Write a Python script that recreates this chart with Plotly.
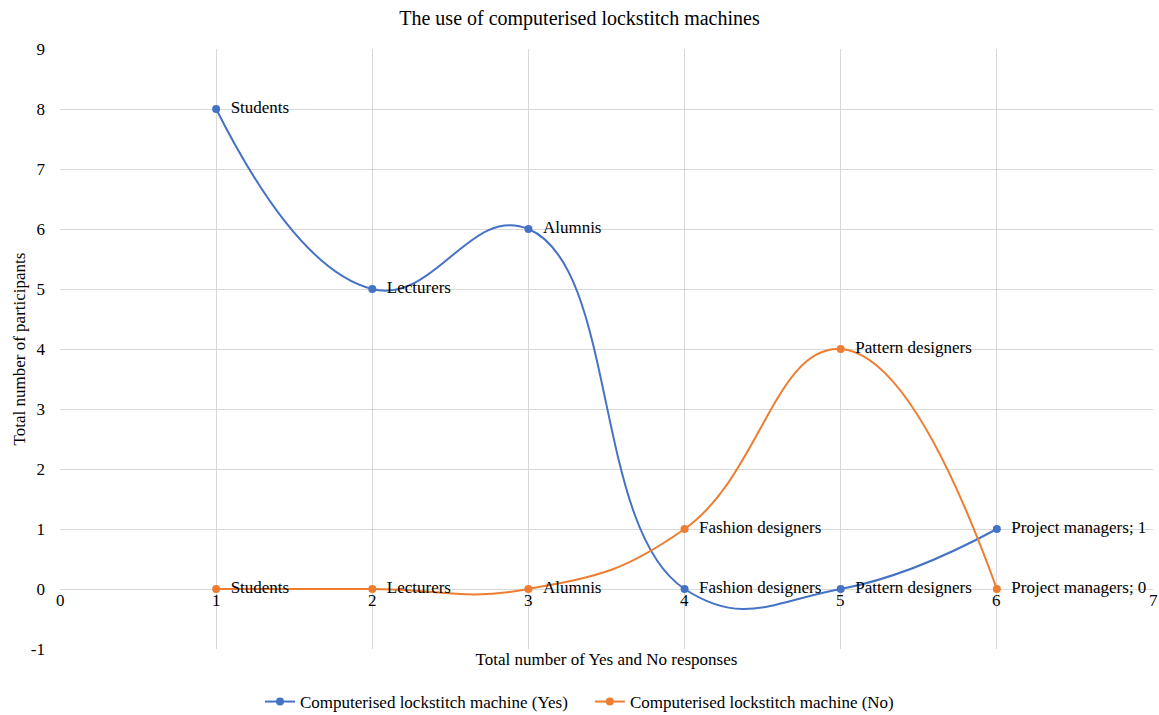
import plotly.graph_objects as go

# Data
x_vals = [1, 2, 3, 4, 5, 6]
groups = ["Students", "Lecturers", "Alumnis", "Fashion designers", "Pattern designers", "Project managers"]
yes_vals = [8, 5, 6, 0, 0, 1]
no_vals = [0, 0, 0, 1, 4, 0]
x_ticks = [0, 1, 2, 3, 4, 5, 6, 7]
y_ticks = [-1, 0, 1, 2, 3, 4, 5, 6, 7, 8, 9]
y_tick_text = ["-1", "0", "1", "2", "3", "4", "5", "6", "7", "8", "9"]
series_names = ["Computerised lockstitch machine (Yes)", "Computerised lockstitch machine (No)"]

BLUE = "#4472c4"
ORANGE = "#ed7d31"
FONT = "Liberation Serif, Times New Roman, serif"
FS = 17
PAD = "\u2002"

def point_labels(values):
    out = []
    for i, (g, v) in enumerate(zip(groups, values)):
        label = g if i < len(groups) - 1 else f"{g}; {v}"
        out.append(PAD + label)
    return out

fig = go.Figure()
# trailing em space widens the gap between the two legend entries
for vals, name, color in [(yes_vals, series_names[0] + "\u2003", BLUE),
                          (no_vals, series_names[1], ORANGE)]:
    fig.add_trace(go.Scatter(
        x=x_vals, y=vals, mode="lines+markers+text", name=name,
        line=dict(color=color, width=2, shape="spline", smoothing=1.3),
        marker=dict(color=color, size=8),
        text=point_labels(vals), textposition="middle right",
        textfont=dict(family=FONT, size=FS, color="#000000"),
        cliponaxis=False,
    ))

# x tick labels sit just under the zero line
for t in x_ticks:
    fig.add_annotation(x=t, y=0, xref="x", yref="y", text=str(t), showarrow=False,
                       yanchor="top", yshift=0,
                       font=dict(family=FONT, size=FS, color="#000000"))

fig.update_layout(
    width=1159, height=715,
    paper_bgcolor="white", plot_bgcolor="white",
    margin=dict(l=60, r=6, t=49, b=66, autoexpand=False),
    font=dict(family=FONT, size=FS, color="#000000"),
    title=dict(text="The use of computerised lockstitch machines", x=0.5, xanchor="center",
               xref="container", y=1 - 18 / 715, yref="container", yanchor="middle",
               font=dict(family=FONT, size=20, color="#000000")),
    showlegend=True,
    legend=dict(orientation="h", x=0.5, xanchor="center", xref="container",
                y=13 / 715, yref="container", yanchor="middle",
                font=dict(family=FONT, size=FS, color="#000000"), itemwidth=30),
)
fig.update_xaxes(range=[0, 7], tickvals=x_ticks, showticklabels=False, automargin=False,
                 showgrid=True, gridcolor="#d9d9d9", gridwidth=1, zeroline=False,
                 showline=False,
                 title=dict(text="Total number of Yes and No responses", standoff=4,
                            font=dict(family=FONT, size=FS)))
fig.update_yaxes(range=[-1, 9], tickvals=y_ticks, ticktext=y_tick_text,
                 showgrid=True, gridcolor="#d9d9d9",
                 gridwidth=1, zeroline=True, zerolinecolor="#d9d9d9", zerolinewidth=1,
                 showline=False, ticks="", ticklabelstandoff=14, automargin=False,
                 tickfont=dict(family=FONT, size=FS),
                 title=dict(text="Total number of participants", standoff=0,
                            font=dict(family=FONT, size=FS)))

fig.write_html("out.html")
